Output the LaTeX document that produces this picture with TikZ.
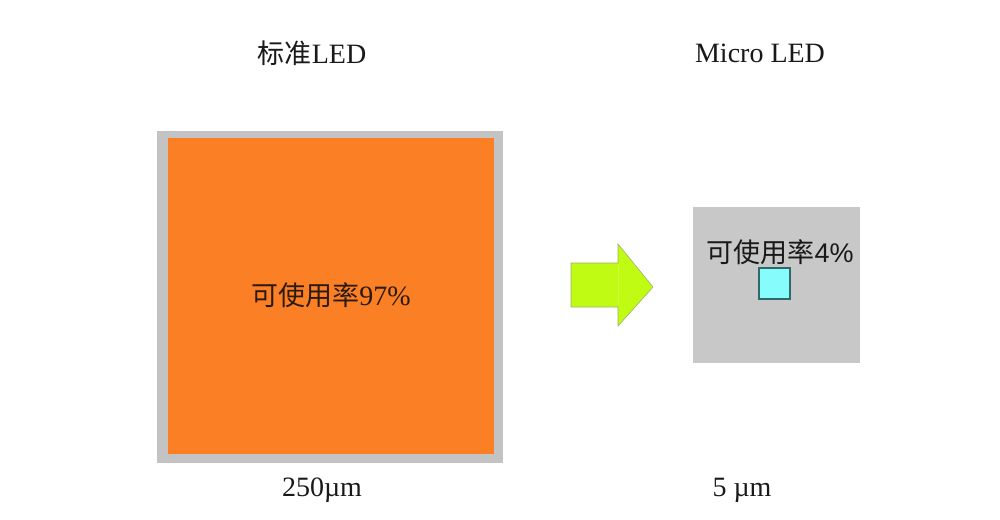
\documentclass[tikz,border=0pt]{standalone}
\usepackage{fontspec}
\setmainfont{Liberation Serif}
\newfontfamily\cjk{Noto Sans CJK SC}
\newfontfamily\latinsans{Liberation Sans}
\definecolor{chiporange}{HTML}{FB7F25}
\definecolor{framegray}{HTML}{C3C3C3}
\definecolor{microgray}{HTML}{C8C8C8}
\definecolor{arrowgreen}{HTML}{C0FB14}
\definecolor{pixelcyan}{HTML}{86FCFC}
\definecolor{pixeledge}{HTML}{2F6A6A}
\definecolor{labeldark}{HTML}{2B1A10}
\tikzset{
  chip/.style={rectangle, inner sep=0pt},
  caption/.style={font=\fontsize{28}{30}\selectfont, text=black!90, inner sep=0pt},
}
\begin{document}
\begin{tikzpicture}[x=1pt, y=-1pt]
            \useasboundingbox[fill=white] (0,0) rectangle (1000,519);
            % titles
            \node[caption] (stdtitle) at (312,53) {{\cjk\fontsize{27}{30}\selectfont 标准}LED};
            \node[caption] (microtitle) at (760,53) {Micro LED};
            % standard LED chip
            \node[chip, fill=framegray, minimum width=346pt, minimum height=332pt] (stdframe) at (330,297) {};
            \node[chip, fill=chiporange, minimum width=326pt, minimum height=316pt,
                  font=\fontsize{28}{30}\selectfont, text=labeldark] (stdchip) at (331,296)
                  {\raisebox{4pt}{{\cjk\fontsize{27}{30}\selectfont 可使用率}97\%}};
            % arrow
            \filldraw[fill=arrowgreen, draw=arrowgreen!50!black!60, line width=0.6pt]
                (571,263) -- (618,263) -- (618,244) -- (653,287) -- (618,326) -- (618,307) -- (571,307) -- cycle;
            \draw[arrowgreen!80!white, line width=0.8pt] (618,265) -- (618,305);
            % micro LED chip
            \node[chip, fill=microgray, minimum width=167pt, minimum height=156pt] (microchip) at (776.5,285) {};
            \node[chip, fill=pixelcyan, draw=pixeledge, line width=2.4pt, minimum width=31pt, minimum height=31pt] (pixel) at (774.5,283.5) {};
            \node[inner sep=0pt, text=black!90, font=\fontsize{27}{30}\selectfont] (microrate) at (780,252)
                {{\cjk 可使用率}\latinsans 4\%};
            % sizes
            \node[caption] (stdsize) at (322,490) {250µm};
            \node[caption] (microsize) at (742,490) {5 µm};
\end{tikzpicture}
\end{document}
